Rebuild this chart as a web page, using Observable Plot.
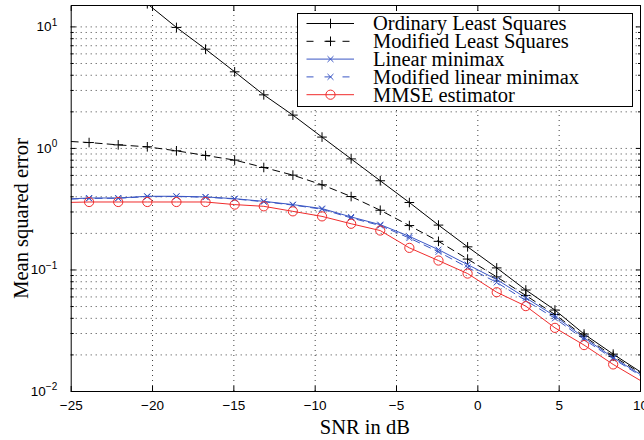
<!DOCTYPE html>
<html><head><meta charset="utf-8">
<script src="https://cdn.jsdelivr.net/npm/d3@7"></script>
<script src="https://cdn.jsdelivr.net/npm/@observablehq/plot@0.6"></script>
<style>
body{margin:0;background:#fff;}
#wrap{position:relative;width:644px;height:440px;overflow:hidden;}
#wrap svg.plot{font-family:"Liberation Sans",Arial,sans-serif;}
g[aria-label="x-axis label"] text, g[aria-label="y-axis label"] text{font-family:"Liberation Serif","Times New Roman",serif;font-size:20.5px;fill:#000;}
#legend{position:absolute;left:297px;top:13px;}
</style></head><body><div id="wrap"></div>
<script>
// ---- data ----
const snr = [-23.9, -22.11, -20.32, -18.53, -16.74, -14.95, -13.16, -11.37, -9.58, -7.79, -6.0, -4.21, -2.42, -0.63, 1.16, 2.95, 4.74, 6.53, 8.32];
const edgeSNR = [-25, 10];
const olsMSE = [null, null, 15.5, 9.9, 6.56, 4.27, 2.76, 1.88, 1.24, 0.82, 0.542, 0.359, 0.234, 0.155, 0.104, 0.0684, 0.0468, 0.0297, 0.0203];
const olsEdge = [null, 0.0145];
const modLsMSE = [1.118, 1.07, 1.031, 0.956, 0.875, 0.802, 0.697, 0.603, 0.502, 0.402, 0.31, 0.232, 0.172, 0.123, 0.0877, 0.0617, 0.043, 0.0285, 0.0195];
const modLsEdge = [1.14, 0.0142];
const linMinimaxMSE = [0.391, 0.391, 0.404, 0.404, 0.399, 0.386, 0.367, 0.345, 0.320, 0.273, 0.236, 0.189, 0.147, 0.1107, 0.0834, 0.059, 0.0417, 0.0277, 0.019];
const linMinimaxEdge = [0.385, 0.0138];
const modLinMinimaxMSE = [0.388, 0.389, 0.401, 0.402, 0.397, 0.384, 0.364, 0.342, 0.316, 0.268, 0.232, 0.183, 0.141, 0.105, 0.079, 0.056, 0.040, 0.0268, 0.0186];
const modLinMinimaxEdge = [0.383, 0.0135];
const mmseMSE = [0.3625, 0.3625, 0.3625, 0.3625, 0.3625, 0.345, 0.334, 0.3036, 0.276, 0.24, 0.211, 0.152, 0.1195, 0.0934, 0.0656, 0.0504, 0.0334, 0.0241, 0.0167];
const mmseEdge = [0.36, 0.0123];
const seriesNames = ["Ordinary Least Squares", "Modified Least Squares", "Linear minimax", "Modified linear minimax", "MMSE estimator"];
const xTicks = [-25, -20, -15, -10, -5, 0, 5, 10];
const yMajor = [0.01, 0.1, 1, 10];
const yMinor = [0.02,0.03,0.04,0.05,0.06,0.07,0.08,0.09,0.2,0.3,0.4,0.5,0.6,0.7,0.8,0.9,2,3,4,5,6,7,8,9];
const xLabel = "SNR in dB";
const yLabel = "Mean squared error";

// ---- styles ----
const BLUE = "#3a56c4", RED = "#f02c2c";
const plusSym = {draw(c, s){const r=Math.sqrt(s/Math.PI); c.moveTo(-r,0);c.lineTo(r,0);c.moveTo(0,-r);c.lineTo(0,r);}};
const timesSym = {draw(c, s){const r=Math.sqrt(s/Math.PI)*0.7071; c.moveTo(-r,-r);c.lineTo(r,r);c.moveTo(-r,r);c.lineTo(r,-r);}};
const circSym = {draw(c, s){const r=Math.sqrt(s/Math.PI); c.moveTo(r,0); c.arc(0,0,r,0,2*Math.PI);}};
const styles = [
  {color:"#000", dash:null, sym:plusSym, r:4.8},
  {color:"#000", dash:"7,5", sym:plusSym, r:4.8},
  {color:BLUE, dash:null, sym:timesSym, r:4.2},
  {color:BLUE, dash:"7,5", sym:timesSym, r:4.2},
  {color:RED, dash:null, sym:circSym, r:4.6}
];
const seriesVals = [olsMSE, modLsMSE, linMinimaxMSE, modLinMinimaxMSE, mmseMSE];
const seriesEdges = [olsEdge, modLsEdge, linMinimaxEdge, modLinMinimaxEdge, mmseEdge];

const lineMarks = [], dotMarks = [];
seriesNames.forEach((name, k) => {
  const pts = snr.map((x, i) => ({x, y: seriesVals[k][i]})).filter(d => d.y != null);
  const line = [];
  if (seriesEdges[k][0] != null) line.push({x: edgeSNR[0], y: seriesEdges[k][0]});
  line.push(...pts);
  if (seriesEdges[k][1] != null) line.push({x: edgeSNR[1], y: seriesEdges[k][1]});
  const st = styles[k];
  lineMarks.push(Plot.line(line, {x:"x", y:"y", stroke: st.color, strokeWidth: 1, strokeDasharray: st.dash || undefined, clip: true}));
  dotMarks.push(Plot.dot(pts, {x:"x", y:"y", symbol: st.sym, r: st.r, fill:"none", stroke: st.color, strokeWidth: 1, clip: true}));
});

const grid = {stroke:"#000", strokeOpacity:0.75, strokeWidth:1, strokeDasharray:"1,4"};
const chart = Plot.plot({
  width: 644, height: 440,
  marginLeft: 70.7, marginRight: 4, marginTop: 5, marginBottom: 49,
  x: {type:"linear", domain:[-25, 10]},
  y: {type:"log", domain:[0.01, 15]},
  style: {fontSize:"13.5px", fontFamily:"Liberation Sans, Arial, sans-serif", color:"#000", background:"#fff"},
  marks: [
    Plot.ruleX(xTicks.slice(1, -1), grid),
    Plot.ruleY([...yMinor, 0.1, 1, 10], grid),
    ...lineMarks,
    ...dotMarks,
    Plot.axisX(xTicks, {anchor:"bottom", tickSize:-5, fill:"none", label:null, tickFormat:() => ""}),
    Plot.axisX(xTicks, {anchor:"top", tickSize:-5, fill:"none", label:null, tickFormat:() => ""}),
    Plot.axisX(xTicks, {anchor:"bottom", tickSize:0, tickPadding:9, label:xLabel, labelAnchor:"center", labelArrow:"none", labelOffset:42}),
    Plot.axisY(yMajor, {anchor:"left", tickSize:-5, fill:"none", label:null, tickFormat:() => ""}),
    Plot.axisY(yMinor, {anchor:"left", tickSize:-3, fill:"none", label:null, tickFormat:() => ""}),
    Plot.axisY(yMajor, {anchor:"right", tickSize:-5, fill:"none", label:null, tickFormat:() => ""}),
    Plot.axisY(yMinor, {anchor:"right", tickSize:-3, fill:"none", label:null, tickFormat:() => ""}),
    Plot.axisY(yMajor, {anchor:"left", tickSize:0, tickPadding:14, label:yLabel, labelAnchor:"center", labelArrow:"none", labelOffset:58,
      tickFormat: d => "10^" + Math.round(Math.log10(d))}),
    Plot.frame({stroke:"#000", strokeWidth:1})
  ]
});
chart.classList.add("plot");
document.getElementById("wrap").appendChild(chart);

// superscript exponents on the y tick labels
d3.select(chart).selectAll('g[aria-label="y-axis tick label"] text').each(function(){
  const t = this.textContent;
  if (!t.startsWith("10^")) return;
  const e = t.slice(3).replace("-", "\u2212");
  const sel = d3.select(this);
  sel.text("10");
  sel.append("tspan").attr("dy", "-0.55em").attr("font-size", "10px").text(e);
});
// nudge axis titles to the reference's placement
function nudge(sel, dx, dy){
  d3.select(chart).selectAll(sel).each(function(){
    const tr = this.getAttribute("transform") || "";
    this.setAttribute("transform", `translate(${dx},${dy}) ${tr}`);
  });
}
nudge('g[aria-label="y-axis label"]', 0, 20);
nudge('g[aria-label="x-axis label"]', 9, 0);

// legend
const L = d3.select("#wrap").append("svg").attr("id","legend").attr("width",337).attr("height",95);
L.append("rect").attr("x",0.5).attr("y",0.5).attr("width",335).attr("height",93).attr("fill","#fff").attr("stroke","#000");
seriesNames.forEach((name, k) => {
  const st = styles[k], cy = 10.5 + k*17.8;
  L.append("line").attr("x1",9.5).attr("x2",57).attr("y1",cy).attr("y2",cy).attr("stroke",st.color).attr("stroke-width",1)
    .attr("stroke-dasharray", st.dash ? "7,11" : null);
  L.append("path").attr("transform",`translate(33.5,${cy})`).attr("d", d3.symbol(st.sym, st.r*st.r*Math.PI)()).attr("fill","none").attr("stroke",st.color);
  L.append("text").attr("x",76).attr("y",cy).attr("dy","0.34em").attr("font-family","Liberation Serif, Times New Roman, serif")
    .attr("font-size","20.5px").text(name);
});
</script></body></html>
